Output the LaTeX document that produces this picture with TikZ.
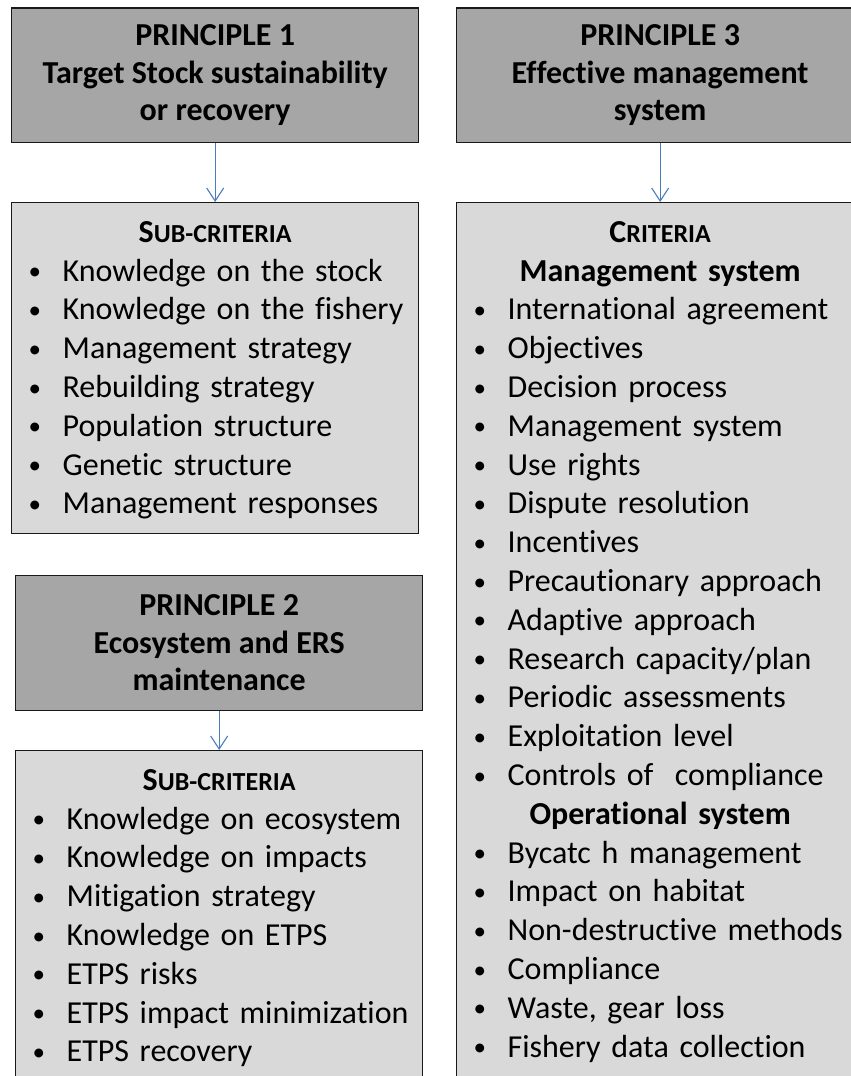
\documentclass[tikz,border=0pt]{standalone}
\usepackage{fontspec}
\setmainfont{Carlito}[Ligatures={NoCommon,NoContextual}]
\usetikzlibrary{arrows.meta}

\definecolor{headgray}{HTML}{A6A6A6}
\definecolor{listgray}{HTML}{D9D9D9}
\definecolor{linkblue}{HTML}{4A7EBB}

\newcommand{\blt}{\raisebox{1.5pt}{\fontsize{25}{25}\selectfont\textbullet}}
\newcommand{\itm}[1]{\mbox{\makebox[34pt][l]{\blt}#1}}
\newcommand{\hdr}[1]{\makebox[\linewidth][c]{\bfseries #1}}
\newcommand{\smcap}[2]{#1{\fontsize{26}{38.8}\selectfont #2}}
\newcommand{\topstrut}{\rule{0pt}{29.7pt}}
\newcommand{\botstrut}{\rule[-9.5pt]{0pt}{9.5pt}}

\tikzset{
  principle/.style={draw=black!90, line width=1.3pt, fill=headgray, anchor=north west,
    minimum width=407pt, minimum height=134.5pt, inner sep=0pt, align=center,
    font=\bfseries\fontsize{32}{37.5}\selectfont},
  listbox/.style={draw=black!90, line width=1.3pt, fill=listgray, anchor=north west,
    text width=373pt, inner xsep=17pt, inner ysep=10pt, align=left,
    font=\fontsize{32}{38.8}\selectfont},
  link/.style={-{Straight Barb[length=13pt,width=17pt]}, draw=linkblue, line width=1.1pt}
}

\begin{document}
\begin{tikzpicture}[x=1pt,y=-1pt]
    \useasboundingbox (0,0) rectangle (851,1076);
    % principles
    \node[principle] (p1) at (11,7.3) {PRINCIPLE 1\\Target Stock sustainability\\or recovery};
    \node[principle] (p3) at (456,7.3) {PRINCIPLE 3\\Effective management\\system};
    \node[principle] (p2) at (15,575) {PRINCIPLE 2\\Ecosystem and ERS\\maintenance};
    %
    \node[listbox] (sub1) at (11,202) {\hdr{\topstrut\smcap{S}{UB-CRITERIA}}\\
      \itm{Knowledge on the stock}\\
      \itm{Knowledge on the fishery}\\
      \itm{Management strategy}\\
      \itm{Rebuilding strategy}\\
      \itm{Population structure}\\
      \itm{Genetic structure}\\
      \itm{Management responses\botstrut}};
    \node[listbox] (sub2) at (15,750) {\hdr{\topstrut\smcap{S}{UB-CRITERIA}}\\
      \itm{Knowledge on ecosystem}\\
      \itm{Knowledge on impacts}\\
      \itm{Mitigation strategy}\\
      \itm{Knowledge on ETPS}\\
      \itm{ETPS risks}\\
      \itm{ETPS impact minimization}\\
      \itm{ETPS recovery\botstrut}};
    \node[listbox] (crit) at (456,202) {\hdr{\topstrut\smcap{C}{RITERIA}}\\
      \hdr{Management system}\\
      \itm{International agreement}\\
      \itm{Objectives}\\
      \itm{Decision process}\\
      \itm{Management system}\\
      \itm{Use rights}\\
      \itm{Dispute resolution}\\
      \itm{Incentives}\\
      \itm{Precautionary approach}\\
      \itm{Adaptive approach}\\
      \itm{Research capacity/plan}\\
      \itm{Periodic assessments}\\
      \itm{Exploitation level}\\
      \itm{Controls of\ \ compliance}\\
      \hdr{Operational system}\\
      \itm{Bycatc h management}\\
      \itm{Impact on habitat}\\
      \itm{Non-destructive methods}\\
      \itm{Compliance}\\
      \itm{Waste, gear loss}\\
      \itm{Fishery data collection\botstrut}};
    %
    \draw[link] (p1) -- (sub1);
    \draw[link] (p3) -- (crit);
    \draw[link] (p2) -- (sub2);
\end{tikzpicture}
\end{document}
